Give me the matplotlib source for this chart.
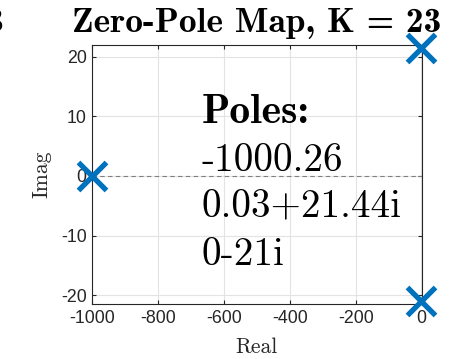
import matplotlib
matplotlib.use("Agg")
import matplotlib.pyplot as plt

# Pole locations (real, imaginary parts)
pole_re = [-1000.26, 0.03, 0.03]
pole_im = [0.0, 21.44, -21.0]
pole_labels = ["-1000.26", "0.03+21.44i", "0-21i"]
gain_k = 23

x_ticks = [-1000, -800, -600, -400, -200, 0]
y_ticks = [-20, -10, 0, 10, 20]

W, H = 454, 359
fig = plt.figure(figsize=(W / 100, H / 100), dpi=100)
ax = fig.add_axes([92.3 / W, 1 - 304 / H, (421.5 - 92.3) / W, (304 - 45) / H])

blue = "#0072BD"
ax.axhline(0, color="#7f7f7f", lw=0.8, ls=(0, (4, 3)), zorder=1)
ax.plot(pole_re, pole_im, ls="none", marker="x", ms=20.5, mew=3.8,
        color=blue, clip_on=False, zorder=5)

ax.set_xlim(-1000.26, 0.03)
ax.set_ylim(-21.5, 22.0)
ax.set_xticks(x_ticks)
ax.set_yticks(y_ticks)
ax.set_xticklabels([str(v) for v in x_ticks])
ax.set_yticklabels([str(v) for v in y_ticks])

ax.grid(True, color="#e3e3e3", lw=0.8)
ax.set_axisbelow(True)
for s in ax.spines.values():
    s.set_color("#262626")
    s.set_linewidth(0.8)
ax.tick_params(direction="in", length=3, width=0.8, color="#262626",
               labelcolor="#262626", top=True, right=True,
               labelsize=12.8, pad=4)
for lab in ax.get_xticklabels() + ax.get_yticklabels():
    lab.set_family("Liberation Sans")

ax.set_xlabel("Real", family="cmr10", fontsize=15.5, color="#262626", labelpad=8)
ax.set_ylabel("Imag", family="cmr10", fontsize=15.5, color="#262626", labelpad=7)

fig.text((92.3 + 421.5) / 2 / W, 1 - 32 / H, f"Zero-Pole Map, K = {gain_k}",
         family="cmb10", fontsize=25.5, ha="center", va="baseline")
fig.text(2.8 / W, 1 - 32 / H, "3", family="cmb10", fontsize=25.5,
         ha="right", va="baseline")

# Pole list written inside the axes
x0 = 201.7 / W
baselines = [123, 170.7, 217, 265]
fig.text(x0, 1 - baselines[0] / H, "Poles:", family="cmb10", fontsize=30,
         va="baseline", ha="left")
for b, txt in zip(baselines[1:], pole_labels):
    fig.text(x0, 1 - b / H, txt, family="cmr10", fontsize=28.2,
             va="baseline", ha="left")

fig.savefig("out.png", dpi=100)
